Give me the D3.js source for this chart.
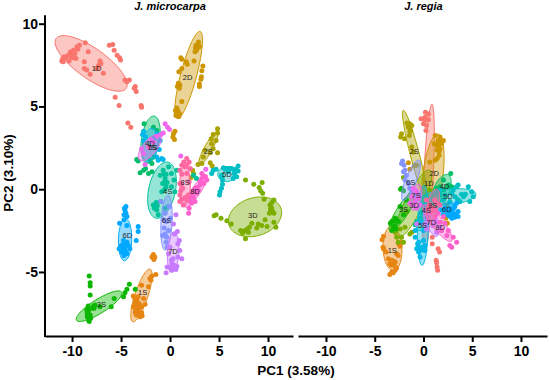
<!DOCTYPE html>
<html>
<head>
<meta charset="utf-8">
<script src="https://cdn.jsdelivr.net/npm/d3@7"></script>
<style>
  html, body { margin: 0; padding: 0; background: #fff; }
  svg { display: block; }
  text { font-family: "Liberation Sans", Arial, sans-serif; }
</style>
</head>
<body>
<svg id="chart" width="550" height="380"></svg>
<script>
const groupNames = ["1D", "1S", "2D", "2S", "3D", "3S", "4D", "4S", "5D", "5S", "6D", "6S", "7D", "7S", "8D", "8S"];
const groupColors = ["#F8766D", "#E68613", "#CD9600", "#ABA300", "#7CAE00", "#0CB702", "#00BE67", "#00C19A",
  "#00BFC4", "#00B8E7", "#00A9FF", "#8494FF", "#C77CFF", "#ED68ED", "#FF61CC", "#FF68A1"];
const xTicks = [-10, -5, 0, 5, 10];
const yTicks = [-5, 0, 5, 10];

// J. microcarpa scores, [PC1, PC2]
const micro1D = [[-10.95,7.9],[-11.05,7.75],[-10.8,8],[-10.9,7.7],[-10.4,8.1],[-10.15,8.3],[-9.85,8.4],[-9.5,8.6],[-9.25,8.7],[-9.7,8.2],[-9.6,7.9],[-10.05,8],[-10.6,7.95],[-10.2,8.1],[-9.9,8.15],[-9.4,8.45],[-9.9,7.95],[-10.3,7.75],[-8.65,8.85],[-8.35,8.3],[-8.75,7.7],[-8.75,7.3],[-8.5,7.2],[-8.15,6.95],[-7.15,7.75],[-7.05,7.6],[-7.25,7.5],[-7.35,7.4],[-6.8,7],[-7.5,7.3],[-6.2,8.7],[-5.85,8.75],[-5.7,8.4],[-5.4,8.1],[-5.15,7.95],[-5.05,7.8],[-4.6,6.6],[-4.15,6.6],[-4.4,6.5],[-3.55,6.2],[-3.65,6.1],[-3.45,5.9],[-5.6,5.55],[-5.2,5.05],[-2.95,5.05],[-2.9,4.95],[-4.3,4],[-4,3.75]];
const micro1S = [[-1.7,-3.95],[-1.85,-4.1],[-1.55,-4.1],[-1.65,-4.25],[-1.45,-5.15],[-1.85,-5.25],[-2.05,-5.4],[-1.95,-5.5],[-2.9,-5.8],[-2.2,-5.9],[-3.75,-6.45],[-3.25,-6.5],[-3.55,-6.8],[-3.15,-6.9],[-2.55,-6.95],[-3.75,-7.1],[-3.35,-7.35],[-2.9,-7.45],[-3.45,-7.6],[-3.05,-7.7],[-3.6,-6.6],[-3.4,-6.7],[-3.3,-7],[-3.6,-7],[-3.5,-7.3],[-3.2,-7.5],[-3.2,-7.2],[-2.9,-7.1],[-2.85,-7.65],[-3.55,-7.45],[-2.7,-6.6]];
const micro2D = [[2.9,8.9],[2.65,8.7],[3,8.6],[2.7,8.4],[2.55,8.3],[2.8,8.55],[2.85,8.75],[2.6,8.55],[1.1,7.95],[1.2,7.85],[1.65,7.7],[1.75,7.55],[2.45,7.75],[1.2,7.3],[0.9,7.1],[3.35,7.45],[3.25,7.15],[3.2,6.8],[3.15,6.65],[3,6.35],[3,6.2],[0.85,6.4],[0.75,6.2],[0.95,6.1],[1,6.3],[1.2,5.3],[0.7,4.9],[0.55,4.75],[0.85,4.6],[1,4.55],[0.6,4.45],[0.7,4.7],[0.8,4.75],[0.65,4.6],[0.9,4.4],[0.5,3.5],[0.35,3.35],[0.3,3.15],[0.45,3]];
const micro2S = [[4.85,3.65],[4.85,3.4],[4.4,3.3],[4.2,3.05],[4.7,2.95],[4.25,2.75],[4.4,2.45],[4.85,2.2],[3.55,2.35],[3.4,1.95],[4.1,2.2],[3.25,1.55],[2.85,1.5],[4.1,1.6],[4.3,1.4],[2.3,1.15],[2.4,0.95],[2.15,0.7]];
const micro3D = [[7.7,0.55],[8.55,0.3],[9.4,0.4],[9.1,0.1],[9.25,-0.1],[9.45,-0.25],[9.6,-0.6],[10.6,-0.65],[10.2,-0.95],[10.4,-1.25],[10.6,-1.45],[10.15,-1.45],[9.7,-1.85],[10.6,-2],[10.8,-2.3],[9.9,-2.25],[9.35,-2.2],[8.85,-2.35],[8.35,-2.05],[8.1,-2.3],[7.65,-2.5],[7.2,-2.5],[7.4,-2.65],[7.7,-3],[6.25,-2.1],[5.8,-1.9],[5.2,-1.75],[4.7,-1.55],[4.5,-1.6],[10.35,-1.1],[10.45,-1.35],[10.25,-1.2],[7.5,-2.55],[7.9,-2.4],[8,-2.6],[9,-2.1],[10.4,-0.8]];
const micro3S = [[-8.25,-5.25],[-8.15,-5.65],[-8.15,-5.85],[-8.15,-6.4],[-4.15,-5.75],[-4.4,-6.05],[-4.6,-6.25],[-4.75,-6.5],[-3.55,-6.05],[-5.7,-6.6],[-6,-7.1],[-7.15,-7.1],[-7.65,-7],[-7.9,-7.2],[-8.35,-7.05],[-8.45,-7.5],[-8.15,-7.6],[-8.45,-7.7],[-8.25,-8],[-8.1,-7.8],[-7.8,-7.05],[-7.75,-7.2],[-8.3,-7.3],[-8.3,-7.55],[-8.5,-7.3],[-8.3,-7.9]];
const micro4D = [[-2.65,3.95],[-3.4,1.8],[-3.25,1.7],[-3.05,1],[-2.7,1.15],[-2.5,1.25],[-2.2,0.95],[-1.85,1.05],[-1.7,3.75],[-1.35,3.55],[-1.65,1.95],[-2.05,1.75],[-1.85,1.55]];
const micro4S = [[-0.15,1.35],[-0.7,1.15],[-1,0.85],[-0.5,0.65],[-0.75,0.35],[-0.4,0.15],[-0.85,-0.15],[0.15,0.95],[0.4,0.55],[0.15,0.15],[-1.35,-1.25],[-1.6,-1.15],[-1.2,-1.55],[-1.7,-0.95],[-0.15,-1.05],[-0.5,-1.15],[0.7,1.15],[2.4,0.85],[2.7,0.65],[-0.95,-0.75],[0.5,-0.15],[-0.4,0.9],[-0.6,0.9],[-0.3,0.4],[-0.6,0.4],[-0.55,0],[-1.3,-1],[-1.4,-0.8]];
const micro5D = [[4.4,1.15],[4.25,0.95],[4.7,1.2],[5.45,1.3],[5.8,1.25],[6.1,1.25],[6.95,1.4],[6.95,1.1],[6.55,0.95],[6.8,0.75],[6.45,0.65],[5.25,0.85],[5.35,0.55],[5.35,0.3],[5.25,0.05],[5.1,-0.15],[5.05,-0.35],[5.95,1.05],[5.6,1.2],[6.3,1.25],[6.7,1.2],[5.3,0.7],[6.6,1.05]];
const micro5S = [[-2.7,3.5],[-2.8,3.3],[-2.5,3.15],[-1.3,3.35],[-1,2.95],[-1.1,2.4],[-1.35,1.95],[-0.85,1.85],[-0.7,1.8],[-1.2,1.75],[-2.7,2.95],[-1.65,3.1]];
const micro6D = [[-4.5,-1.05],[-4.6,-1.25],[-4.5,-1.45],[-4.7,-1.55],[-4.4,-1.65],[-5.15,-2.05],[-4.7,-1.85],[-4.4,-2.2],[-3.25,-2.25],[-3.25,-2.55],[-3.45,-3.1],[-4.75,-3.1],[-4.4,-3.2],[-4.25,-3.4],[-4.95,-3.4],[-5.2,-3.6],[-4.6,-3.7],[-4.95,-3.8],[-4.7,-4],[-4.4,-3.9],[-4.1,-3.6],[-4.6,-3.5],[-4.8,-3.6],[-4.5,-3.4],[-4.7,-3.3],[-4.55,-3.8],[-4.65,-1.15]];
const micro6S = [[-0.75,-2.8],[-0.5,-2.7],[-0.35,-2.9],[-0.4,-3.2],[-0.3,-3.5],[-0.95,-0.75],[-0.5,-1.45],[-0.7,-1.85],[-0.35,-1.95],[0.05,-1.75],[-0.05,-1.05],[-0.6,-2.35],[-0.15,-2.5]];
const micro7D = [[0.6,-1.55],[0.35,-2.1],[0.75,-2.55],[0.45,-2.7],[0.95,-3.1],[1,-3.7],[0.8,-4.1],[1.2,-4.2],[0,-3.5],[-0.15,-3.9],[0.15,-4.3],[0.25,-4.6],[0.7,-4.65],[-0.3,-4.7],[-0.4,-5.05],[0.15,-4.9],[0.6,-4.85],[0,-4.75],[0.2,-4.5],[0.4,-4.6],[0.5,-4.75],[0.1,-4.7],[0.8,-3.3],[0.3,-4.2]];
const micro7S = [[-0.5,3.95],[-0.25,3.75],[-0.05,3.6],[-0.7,3.4],[-0.95,3.3],[-1.35,3.2],[-2.55,1.5],[-2.7,2.15],[-2.9,2.45],[-2.2,2.55],[-1.7,2.85],[-1.95,3],[1.1,2],[3.65,1.2]];
const micro8D = [[3.55,0.75],[3.75,0.55],[3.25,0.65],[3.45,0.35],[3.05,0.25],[2.9,-0.05],[2.55,0.05],[2.2,-0.25],[2.7,-0.25],[2.55,-0.75],[2.2,-0.85],[1.95,-1.15],[1.9,-1.45],[3.25,0.95],[1.85,-0.55],[2.15,-0.45],[3.4,0.8],[3.1,0.5],[2.75,0.1],[2.4,-0.1],[2.4,-0.5],[2.05,-0.7]];
const micro8S = [[1.7,1.85],[1.95,1.65],[1.2,1.45],[1.55,1.35],[2.05,1.25],[1,1.15],[1.7,0.95],[1.95,0.45],[1,0.35],[1.3,0.05],[1,-0.35],[1,-0.75],[1.35,-0.95],[1.7,-0.65],[1.85,-0.35],[1.4,1.65],[1.75,1.5],[1.2,0.9],[1.15,0.3],[1.1,-0.1],[1.2,-0.6],[1.55,-0.5]];

// J. regia scores, [PC1, PC2]
const regia1D = [[0.2,4.65],[0.15,4.35],[0.5,4.55],[-0.25,4.25],[0.15,4.15],[0.5,4.2],[0,3.95],[0.3,3.85],[0.25,3.55],[0.9,-2.9],[0.9,-3.3],[1.5,-3.6],[1.65,-3.8],[1.3,-4.3],[1.35,-4.45],[1.4,-4.7],[1.45,-4.9]];
const regia1S = [[-4.1,-2.85],[-4.25,-3.05],[-4.15,-3.5],[-4.1,-3.6],[-3.85,-3.8],[-2.4,-3.45],[-2.6,-4],[-2.75,-3.9],[-3.6,-4.2],[-3.25,-4.3],[-2.9,-4.4],[-3.45,-4.5],[-3.1,-4.6],[-2.75,-4.75],[-2.9,-4.9],[-3.25,-5],[-3.45,-5.15],[-3.1,-5.05],[-2.2,-3.2],[-2.55,-3.3],[-3.3,-4.45],[-3,-4.5],[-3.1,-4.35],[-3.3,-4.6]];
const regia2D = [[1.2,3.25],[1.7,3.15],[2.05,2.95],[1.5,2.95],[1.85,2.75],[1.35,2.65],[1.7,2.45],[1.4,2.35],[1.6,2.05],[1.4,1.85],[1.2,1.75],[0.65,1.65],[-1.55,1.6],[-0.95,1.4],[-1.4,1.2],[-0.85,1.45],[1.1,2.75],[2.4,-0.95],[2.3,-1.75],[2.45,-2.05],[1.6,2.8],[1.7,2.9],[1.5,2.6],[1.6,2.3]];
const regia2S = [[-1.7,4],[-1.4,3.95],[-1.2,3.85],[-1.55,3.75],[-1.3,3.55],[-1.45,3.25],[-2.25,3.35],[-2.35,3.15],[-1.95,3.05],[-1.2,2.55],[-1.05,2.25],[-0.7,1.45],[-1.5,3.9],[-1.35,3.8],[-1.4,3.5]];
const regia3D = [[-2.05,0.7],[-2.75,-2.9],[-2.4,-2.4],[-1.9,-2.3],[-1.4,-2.7],[-2.6,-3.2],[-2.05,-3.2],[-1.2,-2.6],[-2.25,-2.9],[-2.9,-2.6],[0.3,-0.35],[0.65,-0.05],[-1.7,-1.35],[-0.85,-0.65]];
const regia3S = [[-2.25,0.05],[-2.05,-0.1],[-2.35,0],[-1.75,-0.65],[-2.4,-1.05],[-2.9,-1.75],[-2.55,-1.95],[-3.25,-1.95],[-3.1,-2.25],[-3.25,-2.5],[-2.8,-2.4],[-2.05,-1.55],[-3.4,-2.05],[-2.8,-1.8],[-3,-1.9],[-2.9,-2.2]];
const regia4D = [[2.8,0.95],[2.05,0.55],[1.7,0.15],[2.45,0.15],[2.55,0.25],[2.9,0.15],[1.35,0.05],[0.85,-0.45],[2.05,-0.05]];
const regia4S = [[1.7,-0.35],[0.85,-0.65],[0.15,-0.95],[-0.2,-1.45],[0.5,-1.35],[-0.35,-1.75],[1.35,-0.25],[0.3,-1.75],[-0.7,-1.95],[-0.85,-2.15]];
const regia5D = [[3.4,0.15],[3.55,0.25],[4.6,0.15],[5.1,-0.45],[4.75,-0.75],[3.75,-0.75],[4.1,-0.45],[2.9,-0.25],[3.05,-0.05],[2.2,-0.35],[2.7,-0.75],[4.95,-0.15],[3.25,-0.45],[2.05,-0.65],[1.7,-0.05],[3.9,-0.3],[4.3,-0.3],[3.5,-0.6]];
const regia5S = [[-0.85,-2.9],[-0.5,-3.2],[-0.7,-3.6],[-0.5,-3.8],[-0.1,-3.5],[0.15,-3.4],[0.15,-3.7],[-0.35,-4.1],[0,-3.1],[-0.2,-2],[0,-2.5],[-0.85,-2.5],[-0.45,-3.5],[-0.55,-3.5],[-0.3,-3.7],[-0.6,-3.3]];
const regia6D = [[1.85,-1.25],[2.2,-1.15],[2.7,-1.15],[3.2,-1.05],[3.55,-1.35],[3.05,-1.55],[2.55,-1.45],[3.55,-1.65],[3.2,-1.7],[2.9,-1.75],[2.05,-1.55],[3.4,-0.85],[2.8,-1.4],[2.9,-1.3],[3,-1.2],[2.4,-1.3],[3.3,-1.5],[2.6,-1.6]];
const regia6S = [[-2.15,1.7],[-2.25,1.55],[-2,1.45],[-1.9,1.15],[-2.05,1.05],[-1.75,0.85],[-1.9,0.55],[-1.55,0.35],[-1.4,0.05],[-1.2,-0.15],[-0.85,-0.45],[-0.55,-0.35]];
const regia7D = [[0.5,-1.9],[1.2,-1.8],[0.65,-1.45],[0.95,-2.2],[1.3,-2],[1.7,-2.3],[0.15,-2.1],[0.3,-2.4],[-0.7,-2.1],[1.85,-2.5],[1.35,-2.6]];
const regia7S = [[-1.05,0.05],[-0.7,-0.15],[-1.2,-0.45],[-0.55,-0.55],[-0.85,-0.75],[-1.05,-0.95],[-0.35,-0.95],[-0.7,-1.15],[-0.85,-0.05],[-1.4,-0.85]];
const regia8D = [[1.2,-1.65],[1.7,-2],[2.2,-2.05],[2.55,-2.5],[2.4,-2.8],[2.7,-3.4],[2.9,-3.5],[3.4,-3.2],[3.05,-2.9],[1.5,-1.45],[2.05,-1.65],[1.2,-1.25],[1.85,-2.5]];
const regia8S = [[0.65,-0.95],[1,-1.15],[1.35,-0.85],[0.85,-1.35],[0.5,-1.15],[1.15,-0.65],[1.7,-0.95],[0.3,-0.65]];

// one row per group: centre x, y, then two conjugate semi-axes in PC units
const microEllipses = [
  [-8.05,7.6,3.57,-1.51,0.89,0.74], [-2.92,-6.42,0.89,1.59,0.63,-0.12],
  [1.9,6.9,1.17,2.63,0.79,-0.12], [3.9,2.45,0.92,1,0.36,-0.11],
  [8.67,-1.67,2.65,0.51,0.6,-1.09], [-7.24,-7.07,2.3,0.85,0.38,-0.36],
  [-1.99,2.99,0.37,1.43,0.91,-0.08], [-0.82,-0.06,0.61,1.69,1.33,-0.17],
  [5.79,0.91,0.92,0.03,0.04,-0.45], [-2.04,2.66,0.26,1.03,0.77,-0.06],
  [-4.59,-3.05,0.05,1.27,0.68,0], [-0.36,-2.02,0.15,1.66,0.56,-0.02],
  [0.31,-3.79,0.1,1.21,0.59,-0.02], [-2.07,2.51,1.05,0.76,0.55,-0.27],
  [2.65,-0.11,1.12,0.97,0.38,-0.15], [1.53,0.24,0,1.21,0.54,0]
];
const regiaEllipses = [
  [0.51,0.73,0.36,4.41,0.48,-0.02], [-3.18,-3.58,-0.1,1.33,0.97,0.03],
  [0.97,0.85,0.51,2.48,1.03,-0.07], [-0.87,2.05,-1.2,2.72,0.45,0.07],
  [-1.03,-0.91,1.69,2.05,0.83,-0.24], [-2.15,-1.33,1.28,1.18,0.51,-0.19],
  [1.79,-0.15,0.72,1.03,0.76,-0.18], [0.56,-1.27,1.13,1.21,0.64,-0.21],
  [2.51,-0.48,2.87,0.18,0.05,-0.48], [-0.05,-2.18,0.1,2.42,0.56,0],
  [2.41,-1.21,0.92,0.18,0.15,-0.36], [-1.28,0.54,0.82,1.21,0.52,-0.12],
  [0.77,-2,0.62,-0.85,0.47,0.12], [-0.77,-0.48,0.31,0.79,0.51,-0.08],
  [1.44,-2.05,1.44,-1.09,0.48,0.22], [0.97,-0.97,0.31,0.97,0.62,0.07]
];

const microLabels = [[-7.5,7.3],[-2.8,-6.25],[1.8,6.75],[3.9,2.3],[8.45,-1.6],[-7,-6.95],[-2.05,2.75],[-0.25,-0.15],
  [5.8,0.9],[-1.75,2.5],[-4.35,-2.8],[-0.35,-1.9],[0.3,-3.75],[-1.85,2.5],[2.55,-0.15],[1.55,0.4]];
const regiaLabels = [[0.55,0.35],[-3.2,-3.7],[1.1,0.95],[-0.95,2.3],[-0.95,-0.95],[-2.05,-1.2],[2.15,0.15],[0.3,-1.3],
  [2.5,-0.45],[-0.1,-2.2],[2.4,-1.2],[-1.3,0.4],[0.8,-2],[-0.75,-0.4],[1.7,-2.3],[0.95,-0.95]];

const microPoints = [micro1D, micro1S, micro2D, micro2S, micro3D, micro3S, micro4D, micro4S,
  micro5D, micro5S, micro6D, micro6S, micro7D, micro7S, micro8D, micro8S];
const regiaPoints = [regia1D, regia1S, regia2D, regia2S, regia3D, regia3S, regia4D, regia4S,
  regia5D, regia5S, regia6D, regia6S, regia7D, regia7S, regia8D, regia8S];

const svg = d3.select("#chart");
const yScale = d3.scaleLinear().domain([-8.87, 10.0]).range([336, 23.7]);
const xMicro = d3.scaleLinear().domain([-12.76, 12.55]).range([45, 293]);
const xRegia = d3.scaleLinear().domain([-12.87, 12.67]).range([298, 547]);

function drawPanel(x, pointSets, ellipses, labels, title, showY) {
  const g = svg.append("g");

  pointSets.forEach((pts, i) => {
    const sub = g.append("g");
    sub.selectAll("circle").data(pts).join("circle")
      .attr("cx", d => x(d[0]))
      .attr("cy", d => yScale(d[1]))
      .attr("r", 2.5)
      .attr("fill", groupColors[i]);

    const e = ellipses[i];
    const line = d3.line()
      .x(t => x(e[0] + e[2] * Math.cos(t) + e[4] * Math.sin(t)))
      .y(t => yScale(e[1] + e[3] * Math.cos(t) + e[5] * Math.sin(t)))
      .curve(d3.curveLinearClosed);
    sub.append("path")
      .attr("d", line(d3.range(72).map(k => k * Math.PI / 36)))
      .attr("fill", groupColors[i])
      .attr("fill-opacity", 0.42)
      .attr("stroke", groupColors[i])
      .attr("stroke-width", 1);
  });

  g.selectAll("text.group").data(labels).join("text")
    .attr("class", "group")
    .attr("x", d => x(d[0]))
    .attr("y", d => yScale(d[1]))
    .attr("dy", "0.35em")
    .attr("text-anchor", "middle")
    .attr("font-size", 7.5)
    .attr("fill", "#222")
    .text((d, i) => groupNames[i]);

  const axisB = svg.append("g")
    .attr("transform", "translate(0,336)")
    .call(d3.axisBottom(x).tickValues(xTicks).tickSize(6).tickSizeOuter(0).tickPadding(4).tickFormat(d3.format("d")));
  axisB.select(".domain").attr("stroke-width", 2).attr("stroke", "#000");
  axisB.selectAll(".tick line").attr("stroke-width", 2).attr("stroke", "#000");
  axisB.selectAll("text").attr("font-size", 14).attr("font-weight", "bold").attr("fill", "#000")
    .text(d => d);

  if (showY) {
    const axisL = svg.append("g")
      .attr("transform", "translate(45,0)")
      .call(d3.axisLeft(yScale).tickValues(yTicks).tickSize(6).tickSizeOuter(0).tickPadding(1).tickFormat(d3.format("d")));
    axisL.select(".domain").attr("stroke-width", 2).attr("stroke", "#000")
      .attr("stroke-linecap", "square")
      .attr("d", `M0,${yScale(10.45)}V336`);
    axisL.selectAll(".tick line").attr("stroke-width", 2).attr("stroke", "#000");
    axisL.selectAll("text").attr("font-size", 14).attr("font-weight", "bold").attr("fill", "#000")
      .text(d => d);
  }

  svg.append("text")
    .attr("x", x(0))
    .attr("y", 10)
    .attr("text-anchor", "middle")
    .attr("font-size", 11)
    .attr("font-weight", "bold")
    .attr("font-style", "italic")
    .text(title);
}

drawPanel(xMicro, microPoints, microEllipses, microLabels, "J. microcarpa", true);
drawPanel(xRegia, regiaPoints, regiaEllipses, regiaLabels, "J. regia", false);

svg.append("text")
  .attr("x", 296)
  .attr("y", 375)
  .attr("text-anchor", "middle")
  .attr("font-size", 13.5)
  .attr("font-weight", "bold")
  .text("PC1 (3.58%)");

svg.append("text")
  .attr("transform", "translate(13,173) rotate(-90)")
  .attr("text-anchor", "middle")
  .attr("font-size", 13.5)
  .attr("font-weight", "bold")
  .text("PC2 (3.10%)");
</script>
</body>
</html>
